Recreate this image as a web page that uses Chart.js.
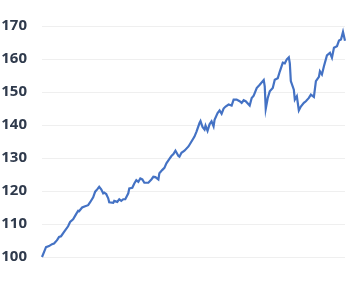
<!DOCTYPE html>
<html>
<head>
<meta charset="utf-8">
<script src="https://cdn.jsdelivr.net/npm/chart.js@4"></script>
<style>
  html, body { margin: 0; padding: 0; background: #fff; }
  #wrap { width: 360px; height: 281px; position: relative; }
</style>
</head>
<body>
<div id="wrap"><canvas id="indexChart"></canvas></div>
<script>
// months since start, and the index value read for each
const months = [0, 2, 4, 7, 10, 12, 15, 17, 19, 22, 26, 28, 31, 34, 36, 37, 40, 43, 46, 48,
    51, 53, 55, 57, 59, 61, 62, 64, 66, 67, 71, 72, 75, 77, 79, 81, 83, 86, 87, 90,
    92, 94, 96, 98, 100, 102, 106, 109, 111, 113, 116, 117, 120, 122, 124, 127, 129, 131, 133, 136,
    137, 139, 142, 146, 149, 152, 154, 157, 158, 160, 162, 163, 165, 167, 169, 171, 172, 175, 177, 179,
    181, 183, 186, 189, 191, 194, 197, 199, 201, 203, 207, 209, 211, 214, 217, 221, 222, 223, 225, 227,
    230, 232, 235, 237, 240, 242, 244, 246, 247, 248, 251, 252, 254, 256, 258, 261, 263, 266, 268, 271,
    273, 276, 277, 279, 281, 284, 287, 289, 291, 294, 296, 298, 300, 302]
const values = [100, 101.5, 103, 103.3, 103.9, 104.1, 105.1, 106.1, 106.3, 107.6, 109.3, 110.6, 111.4, 113, 114, 113.9, 115, 115.4, 115.7, 116.6,
    118.1, 119.8, 120.5, 121.3, 120.5, 119.3, 119.5, 119.1, 117.8, 116.6, 116.4, 117, 116.7, 117.5, 117, 117.5, 117.5, 119.3, 120.8, 121,
    122.3, 123.3, 122.8, 123.8, 123.5, 122.5, 122.5, 123.5, 124.3, 124.2, 123.5, 125.4, 126.4, 127, 128.4, 129.7, 130.6, 131.2, 132.2, 130.6,
    130.4, 131.6, 132.2, 133.5, 135, 136.5, 138, 140.6, 141.2, 139.4, 138.6, 139.8, 138.2, 140.2, 141.1, 139.6, 141.6, 143.6, 144.4, 143.4,
    145, 145.6, 146.2, 145.9, 147.7, 147.7, 147.2, 146.7, 147.5, 147.2, 145.9, 148.2, 148.9, 151.2, 152.2, 153.6, 151.7, 144.9, 148.2, 150.2,
    151.2, 153.7, 154.2, 156.2, 158.9, 158.7, 159.9, 160.5, 158.7, 153.3, 150.7, 147.7, 148.7, 144.4, 145.6, 146.7, 147.2, 148.2, 149.2, 148.5,
    153.3, 154.6, 156.3, 155.3, 157.8, 161.1, 161.9, 160.4, 163.4, 163.9, 165.6, 165.9, 168.2, 165.5]
const yTicks = [100, 110, 120, 130, 140, 150, 160, 170]

document.addEventListener('DOMContentLoaded', async function () {
    try { await document.fonts.load('700 15px "Open Sans"') } catch (e) {}

    const points = months.map((m, i) => ({ x: m, y: values[i] }))

    const ctx = document.getElementById('indexChart').getContext('2d')
    const indexChart = new Chart(ctx, {
        type: 'line',
        data: {
            datasets: [{
                data: points,
                borderColor: '#4472c4',
                borderWidth: 2.2,
                pointRadius: 0,
                tension: 0,
                fill: false,
                clip: false
            }]
        },
        options: {
            responsive: true,
            maintainAspectRatio: false,
            animation: false,
            layout: { padding: { top: 26, bottom: 24, right: 15, left: 0 } },
            plugins: {
                legend: { display: false },
                tooltip: { enabled: false }
            },
            scales: {
                x: {
                    type: 'linear',
                    min: 0,
                    max: 302,
                    display: false
                },
                y: {
                    min: yTicks[0],
                    max: yTicks[yTicks.length - 1],
                    afterBuildTicks: (axis) => { axis.ticks = yTicks.map(v => ({ value: v })) },
                    afterFit: (axis) => { axis.width = 42 },
                    border: { display: false },
                    grid: { color: '#efefef', drawTicks: false },
                    ticks: {
                        padding: 15,
                        color: '#2f3a4c',
                        font: { family: '"Open Sans"', size: 15, weight: 700 }
                    }
                }
            }
        }
    })
})
</script>
</body>
</html>
